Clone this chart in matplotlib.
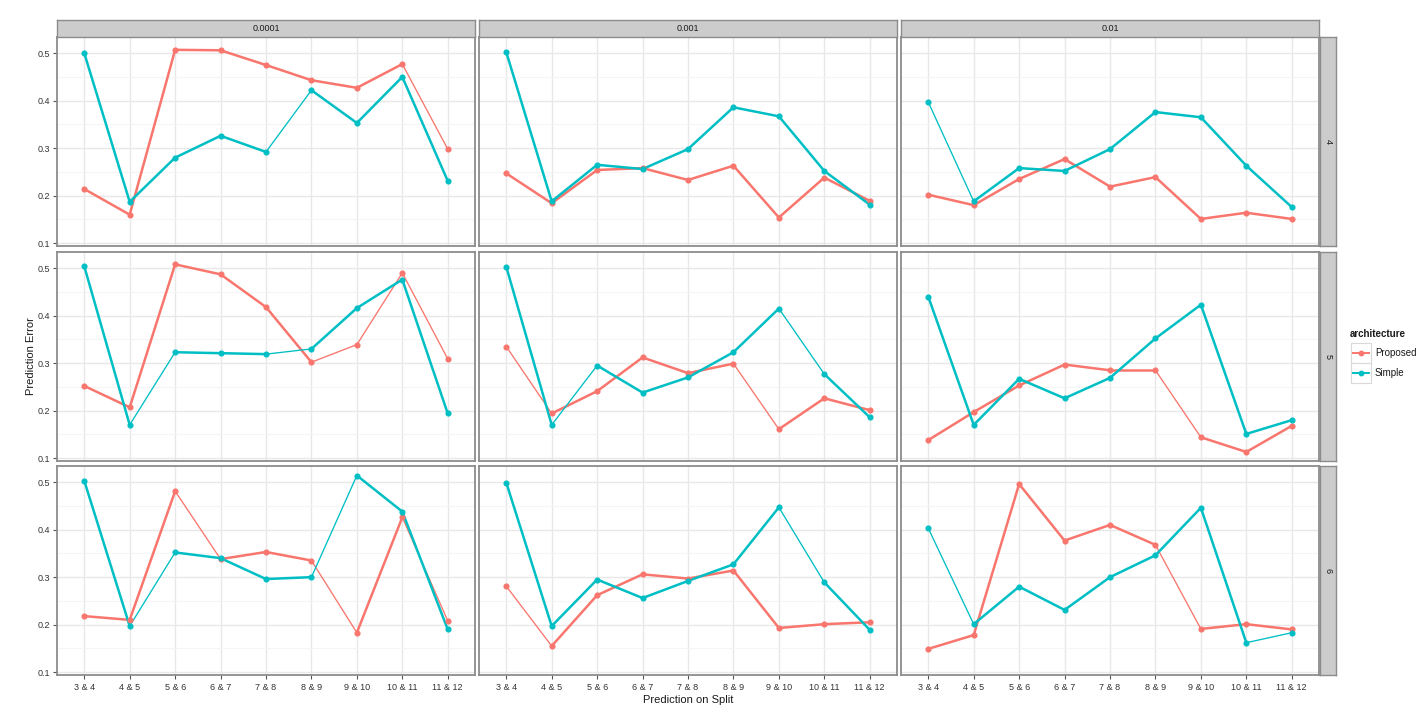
import matplotlib
matplotlib.use("Agg")
import matplotlib.pyplot as plt
from matplotlib.lines import Line2D
from matplotlib.patches import Rectangle
from matplotlib.ticker import MultipleLocator

plt.rcParams['font.family'] = ['Liberation Sans', 'DejaVu Sans']

# ---------------- data ----------------
categories = ["3 & 4", "4 & 5", "5 & 6", "6 & 7", "7 & 8", "8 & 9", "9 & 10", "10 & 11", "11 & 12"]
row_labels = ["4", "5", "6"]
col_labels = ["0.0001", "0.001", "0.01"]
series_names = ["Proposed", "Simple"]

proposed_4_00001 = [0.214, 0.160, 0.507, 0.506, 0.475, 0.443, 0.427, 0.477, 0.298]
simple_4_00001 = [0.500, 0.187, 0.280, 0.326, 0.292, 0.422, 0.353, 0.450, 0.231]
proposed_4_0001 = [0.247, 0.184, 0.254, 0.258, 0.233, 0.263, 0.154, 0.238, 0.189]
simple_4_0001 = [0.502, 0.188, 0.265, 0.256, 0.298, 0.386, 0.367, 0.252, 0.181]
proposed_4_001 = [0.202, 0.180, 0.235, 0.277, 0.219, 0.239, 0.151, 0.164, 0.151]
simple_4_001 = [0.397, 0.188, 0.258, 0.252, 0.298, 0.376, 0.365, 0.263, 0.176]
proposed_5_00001 = [0.252, 0.207, 0.508, 0.487, 0.418, 0.302, 0.339, 0.490, 0.309]
simple_5_00001 = [0.504, 0.170, 0.323, 0.321, 0.319, 0.330, 0.416, 0.476, 0.194]
proposed_5_0001 = [0.335, 0.194, 0.241, 0.312, 0.279, 0.299, 0.161, 0.226, 0.201]
simple_5_0001 = [0.503, 0.170, 0.295, 0.238, 0.270, 0.323, 0.415, 0.277, 0.186]
proposed_5_001 = [0.138, 0.197, 0.253, 0.297, 0.285, 0.285, 0.144, 0.113, 0.168]
simple_5_001 = [0.440, 0.170, 0.267, 0.226, 0.269, 0.352, 0.423, 0.151, 0.180]
proposed_6_00001 = [0.218, 0.210, 0.481, 0.338, 0.353, 0.335, 0.183, 0.426, 0.208]
simple_6_00001 = [0.503, 0.197, 0.352, 0.340, 0.296, 0.300, 0.514, 0.438, 0.190]
proposed_6_0001 = [0.281, 0.155, 0.262, 0.306, 0.297, 0.314, 0.193, 0.201, 0.205]
simple_6_0001 = [0.499, 0.197, 0.295, 0.256, 0.292, 0.327, 0.447, 0.289, 0.189]
proposed_6_001 = [0.149, 0.178, 0.496, 0.377, 0.410, 0.368, 0.191, 0.201, 0.190]
simple_6_001 = [0.403, 0.201, 0.280, 0.231, 0.300, 0.346, 0.446, 0.162, 0.183]

# size group of each segment (1 = large, 0 = small), mapped like a size aesthetic
proposed_size_4_00001 = [1, 1, 1, 1, 1, 1, 1, 0]
simple_size_4_00001 = [1, 1, 1, 1, 0, 1, 1, 1]
proposed_size_4_0001 = [1, 1, 1, 1, 1, 1, 1, 1]
simple_size_4_0001 = [1, 1, 1, 1, 1, 1, 1, 1]
proposed_size_4_001 = [1, 1, 1, 1, 1, 1, 1, 1]
simple_size_4_001 = [0, 1, 1, 1, 1, 1, 1, 1]
proposed_size_5_00001 = [1, 1, 1, 1, 1, 0, 0, 0]
simple_size_5_00001 = [1, 0, 1, 1, 0, 1, 1, 1]
proposed_size_5_0001 = [0, 1, 1, 1, 1, 0, 1, 1]
simple_size_5_0001 = [1, 0, 1, 1, 1, 1, 0, 1]
proposed_size_5_001 = [1, 1, 1, 1, 1, 0, 1, 1]
simple_size_5_001 = [1, 1, 1, 1, 1, 1, 1, 1]
proposed_size_6_00001 = [1, 1, 0, 1, 1, 0, 1, 0]
simple_size_6_00001 = [1, 0, 1, 1, 1, 0, 1, 1]
proposed_size_6_0001 = [0, 1, 1, 1, 1, 1, 1, 1]
simple_size_6_0001 = [1, 1, 1, 1, 1, 1, 0, 1]
proposed_size_6_001 = [1, 1, 1, 1, 1, 0, 1, 1]
simple_size_6_001 = [0, 1, 1, 1, 1, 1, 1, 0]

grid_data = {
    (0, 0): (proposed_4_00001, simple_4_00001, proposed_size_4_00001, simple_size_4_00001),
    (0, 1): (proposed_4_0001, simple_4_0001, proposed_size_4_0001, simple_size_4_0001),
    (0, 2): (proposed_4_001, simple_4_001, proposed_size_4_001, simple_size_4_001),
    (1, 0): (proposed_5_00001, simple_5_00001, proposed_size_5_00001, simple_size_5_00001),
    (1, 1): (proposed_5_0001, simple_5_0001, proposed_size_5_0001, simple_size_5_0001),
    (1, 2): (proposed_5_001, simple_5_001, proposed_size_5_001, simple_size_5_001),
    (2, 0): (proposed_6_00001, simple_6_00001, proposed_size_6_00001, simple_size_6_00001),
    (2, 1): (proposed_6_0001, simple_6_0001, proposed_size_6_0001, simple_size_6_0001),
    (2, 2): (proposed_6_001, simple_6_001, proposed_size_6_001, simple_size_6_001),
}

# ---------------- style ----------------
W, H = 1420, 720
colors = {"Proposed": "#F8766D", "Simple": "#00BFC4"}
lw_big, lw_small = 1.8, 0.95
border_col = "#8C8C8C"
strip_fill = "#CCCCCC"
tick_fs = 6.5

fig = plt.figure(figsize=(W / 100, H / 100), dpi=100)
fig.patch.set_facecolor("white")

def fx(px):
    return px / W

def fy(py):
    return 1 - py / H

col_left = [57, 479, 901]
panel_w = 418
row_top = [37, 252, 466]
panel_h = 209
strip_h = 17
strip_w = 16

xs = list(range(len(categories)))

for (r, c), (prop, simp, psz, ssz) in grid_data.items():
    x0, y0 = col_left[c], row_top[r]
    ax = fig.add_axes([fx(x0), fy(y0 + panel_h), fx(panel_w), panel_h / H])
    ax.set_xlim(-0.6, len(categories) - 1 + 0.6)
    ax.set_ylim(0.094, 0.534)
    ax.yaxis.set_major_locator(MultipleLocator(0.1))
    ax.yaxis.set_minor_locator(MultipleLocator(0.05))
    ax.set_xticks(xs)
    ax.grid(True, which="major", color="#E8E8E8", lw=1.0)
    ax.grid(True, which="minor", axis="y", color="#F5F5F5", lw=0.8)
    ax.set_axisbelow(True)
    for sp in ax.spines.values():
        sp.set_color(border_col)
        sp.set_linewidth(1.3)
    for name, vals, sizes in (("Proposed", prop, psz), ("Simple", simp, ssz)):
        col = colors[name]
        for i in range(len(vals) - 1):
            ax.plot([xs[i], xs[i + 1]], [vals[i], vals[i + 1]], color=col,
                    lw=lw_big if sizes[i] else lw_small, solid_capstyle="round", zorder=3)
        ax.plot(xs, vals, ls="none", marker="o", ms=3.4, color=col, zorder=4)
    ax.tick_params(axis="both", which="both", length=0, labelsize=tick_fs, colors="#333333")
    ax.tick_params(axis="both", which="major", length=3, color="#555555", width=0.8)
    ax.tick_params(axis="y", which="minor", length=0)
    if c == 0:
        ax.set_yticklabels([f"{v:.1f}" for v in ax.get_yticks()])
        ax.tick_params(axis="y", pad=2)
    else:
        ax.tick_params(axis="y", which="major", length=0, labelleft=False)
    if r == 2:
        ax.set_xticklabels(categories)
        ax.tick_params(axis="x", pad=3)
    else:
        ax.tick_params(axis="x", which="major", length=0, labelbottom=False)
    ax.set_ylim(0.094, 0.534)

    # column strips
    if r == 0:
        sax = fig.add_axes([fx(x0), fy(y0), fx(panel_w), strip_h / H])
        sax.set_facecolor(strip_fill)
        sax.set_xticks([]); sax.set_yticks([])
        for sp in sax.spines.values():
            sp.set_color(border_col); sp.set_linewidth(1.0)
        sax.text(0.5, 0.5, col_labels[c], ha="center", va="center", fontsize=6.5,
                 color="#1A1A1A", transform=sax.transAxes)
    # row strips
    if c == 2:
        rax = fig.add_axes([fx(x0 + panel_w + 1), fy(y0 + panel_h), fx(strip_w), panel_h / H])
        rax.set_facecolor(strip_fill)
        rax.set_xticks([]); rax.set_yticks([])
        for sp in rax.spines.values():
            sp.set_color(border_col); sp.set_linewidth(1.0)
        rax.text(0.5, 0.5, row_labels[r], ha="center", va="center", fontsize=6.5,
                 rotation=-90, color="#1A1A1A", transform=rax.transAxes)

# axis titles
fig.text(fx(688), fy(700), "Prediction on Split", ha="center", va="center", fontsize=8, color="#1A1A1A")
fig.text(fx(31), fy(356), "Prediction Error", ha="center", va="center", rotation=90,
         fontsize=8, color="#1A1A1A")

# legend
fig.text(fx(1350), fy(334), "architecture", ha="left", va="center", fontsize=7,
         fontweight="bold", color="#1A1A1A")
key_y = [353, 373]
for name, ky in zip(series_names, key_y):
    fig.patches.append(Rectangle((fx(1351), fy(ky + 10)), fx(20), 20 / H, transform=fig.transFigure,
                                 facecolor="white", edgecolor="#D9D9D9", lw=0.8))
    fig.lines.append(Line2D([fx(1353), fx(1369)], [fy(ky), fy(ky)], transform=fig.transFigure,
                            color=colors[name], lw=1.4))
    fig.lines.append(Line2D([fx(1361)], [fy(ky)], transform=fig.transFigure, marker="o",
                            ms=3.2, color=colors[name]))
    fig.text(fx(1375), fy(ky), name, ha="left", va="center", fontsize=7, color="#1A1A1A")

fig.savefig("out.png", dpi=100, facecolor="white")
